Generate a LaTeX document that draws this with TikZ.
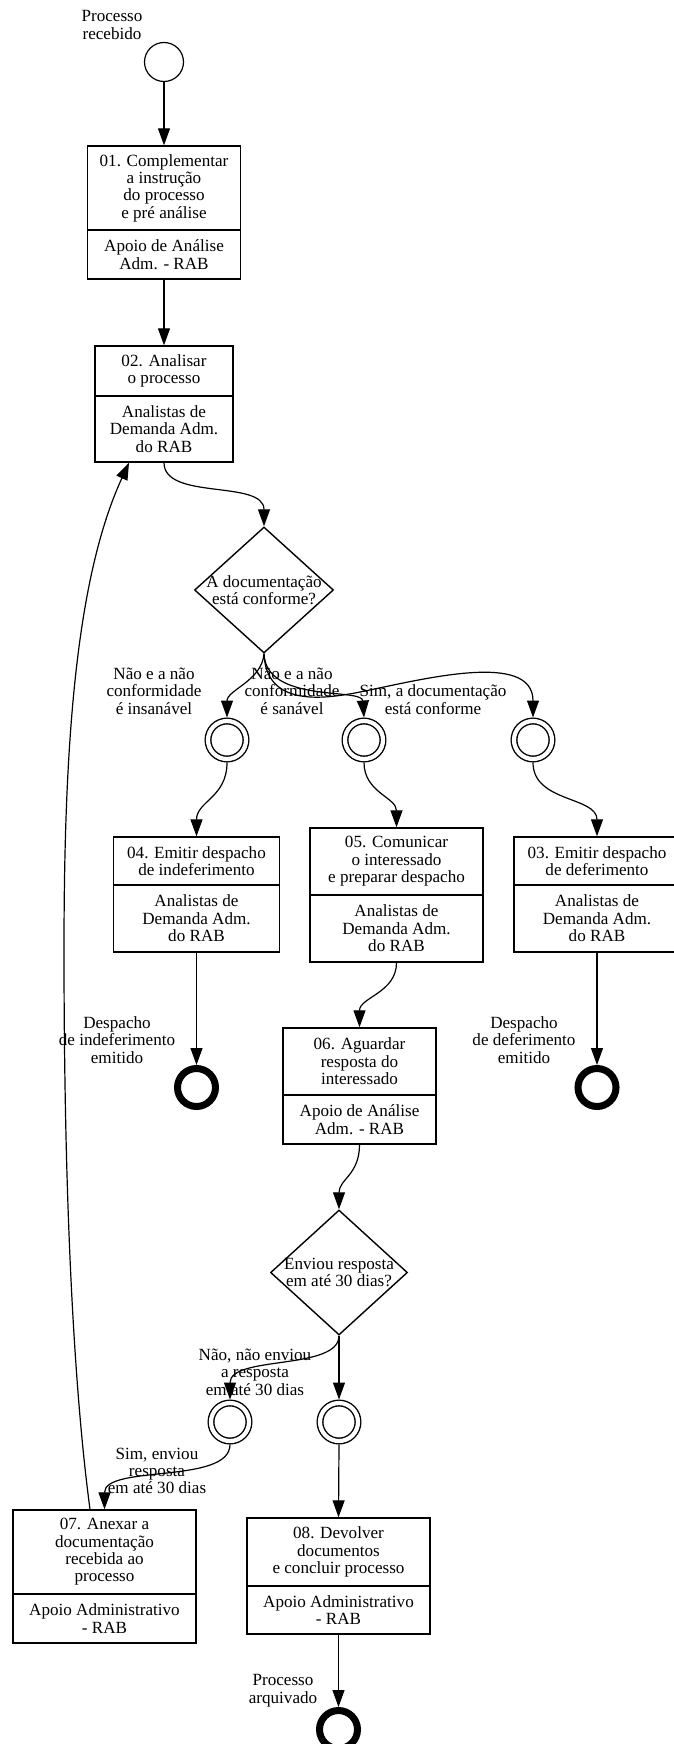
\documentclass[tikz,border=0pt]{standalone}
\usepackage{fontspec}
\setmainfont{Liberation Serif}
\usetikzlibrary{arrows.meta,shapes.geometric}
\tikzset{
  box/.style={draw, line width=1.4pt, rectangle, inner sep=0pt},
  boxline/.style={line width=1.4pt},
  txt/.style={align=center, font=\fontsize{17.1}{17.4}\selectfont, inner sep=0pt},
  flow/.style={line width=1.2pt, -{Triangle[length=17pt,width=12pt]}},
  startev/.style={circle, draw, line width=1.2pt, minimum size=39pt, inner sep=0pt},
  midev/.style={circle, draw, line width=1.4pt, double, double distance=4.2pt, minimum size=38pt, inner sep=0pt, outer sep=3.5pt},
  endev/.style={circle, draw, line width=7pt, minimum size=38pt, inner sep=0pt},
  gate/.style={diamond, draw, line width=1.4pt, inner sep=0pt},
}
% #1 name, #2 cx, #3 top, #4 bottom, #5 divider y, #6 width, #7 upper, #8 lower
\newcommand\mytask[8]{%
  \node[box, minimum width=#6, minimum height={#4-#3}] (#1) at ({#2},{(#3+#4)/2}) {};
  \draw[boxline] ({#2-#6/2},#5) -- ({#2+#6/2},#5);
  \node[txt] (#1u) at ({#2},{(#3+#5)/2}) {#7};
  \node[txt] (#1l) at ({#2},{(#5+#4)/2}) {#8};
}
\begin{document}
\begin{tikzpicture}[x=1pt,y=-1pt]
\useasboundingbox (0,0) rectangle (673,1744);

% events
\node[startev] (start) at (164,62) {};
\node[txt] (lstart) at (112,25) {Processo\\recebido};

% tasks
\mytask{t01}{164}{146}{279}{230}{153.5}{01. Complementar\\a instrução\\do processo\\e pré análise}{Apoio de Análise\\Adm. - RAB}
\mytask{t02}{164}{346}{462}{396}{138}{02. Analisar\\o processo}{Analistas de\\Demanda Adm.\\do RAB}
\mytask{t04}{196.5}{837}{952}{885}{166}{04. Emitir despacho\\de indeferimento}{Analistas de\\Demanda Adm.\\do RAB}
\mytask{t05}{396.5}{828}{962}{895}{173}{05. Comunicar\\o interessado\\e preparar despacho}{Analistas de\\Demanda Adm.\\do RAB}
\mytask{t03}{597}{837}{952}{885}{166}{03. Emitir despacho\\de deferimento}{Analistas de\\Demanda Adm.\\do RAB}
\mytask{t06}{359.5}{1028}{1144}{1095}{153}{06. Aguardar\\resposta do\\interessado}{Apoio de Análise\\Adm. - RAB}
\mytask{t07}{104.5}{1510}{1643}{1594}{183}{07. Anexar a\\documentação\\recebida ao\\processo}{Apoio Administrativo\\- RAB}
\mytask{t08}{338.5}{1518}{1634}{1586}{183}{08. Devolver\\documentos\\e concluir processo}{Apoio Administrativo\\- RAB}

% gateways
\node[gate, minimum width=139pt, minimum height=126pt] (g1) at (264,590) {};
\node[txt] (g1t) at (264,590) {A documentação\\está conforme?};
\node[gate, minimum width=137pt, minimum height=125pt] (g2) at (339,1272.5) {};
\node[txt] (g2t) at (339,1272.5) {Enviou resposta\\em até 30 dias?};

% intermediate events
\node[midev] (e1) at (227,740) {};
\node[midev] (e2) at (364,740) {};
\node[midev] (e3) at (533,740) {};
\node[midev] (e4) at (230,1422) {};
\node[midev] (e5) at (339,1422) {};

% end events
\node[endev] (en1) at (196.5,1087.5) {};
\node[endev] (en2) at (597,1087.5) {};
\node[endev] (en3) at (338.5,1729.5) {};

% labels
\node[txt] (l1) at (154,691) {Não e a não\\conformidade\\é insanável};
\node[txt] (l2) at (292,691) {Não e a não\\conformidade\\é sanável};
\node[txt] (l3) at (433,699.5) {Sim, a documentação\\está conforme};
\node[txt] (l4) at (117,1040) {Despacho\\de indeferimento\\emitido};
\node[txt] (l5) at (524,1040) {Despacho\\de deferimento\\emitido};
\node[txt] (l6) at (255,1372) {Não, não enviou\\a resposta\\em até 30 dias};
\node[txt] (l7) at (157,1471) {Sim, enviou\\resposta\\em até 30 dias};
\node[txt] (l8) at (283,1690.5) {Processo\\arquivado};

% helper coordinates
\coordinate (rmid) at (360,692);
\coordinate (loopmid) at (64,950);

% connectors
\draw[flow] (start.south) -- (t01.north);
\draw[flow] (t01.south) -- (t02.north);
\draw[flow] (t02.south) .. controls +(0,38) and +(0,-47) .. (g1.north);
\draw[flow] (g1.south) .. controls +(-2,27) and +(0,-27.5) .. (e1.north);
\draw[flow] (g1.south) .. controls +(2,50) and +(-2,-30) .. (e2.north);
\draw[flow] (g1.south) .. controls +(2,52) and (320,700) .. (rmid) .. controls (420,680) and +(0,-67.5) .. (e3.north);
\draw[flow] (e1.south) .. controls +(0,35) and +(0,-35) .. (t04.north);
\draw[flow] (e2.south) .. controls +(0,30) and +(0,-30) .. (t05.north);
\draw[flow] (e3.south) .. controls +(0,40) and +(0,-40) .. (t03.north);
\draw[flow] (t04.south) -- (en1.north);
\draw[flow] (t03.south) -- (en2.north);
\draw[flow] (t05.south) .. controls +(0,30) and +(0,-30) .. (t06.north);
\draw[flow] (t06.south) .. controls +(0,30) and +(0,-30) .. (g2.north);
\draw[flow] (g2.south) -- (e5.north);
\draw[flow] (g2.south) .. controls +(0,35) and +(0,-44.5) .. (e4.north);
\draw[flow] (e4.south) .. controls +(0,40) and +(0,-45) .. (t07.north);
\draw[flow] (e5.south) -- (t08.north);
\draw[flow] (t08.south) -- (en3.north);
\draw[flow] ([xshift=-14.5pt]t07.north) .. controls (78,1420) and (64,1250) .. (loopmid) .. controls (64,750) and (75,580) .. ([xshift=-35pt]t02.south);
\end{tikzpicture}
\end{document}
